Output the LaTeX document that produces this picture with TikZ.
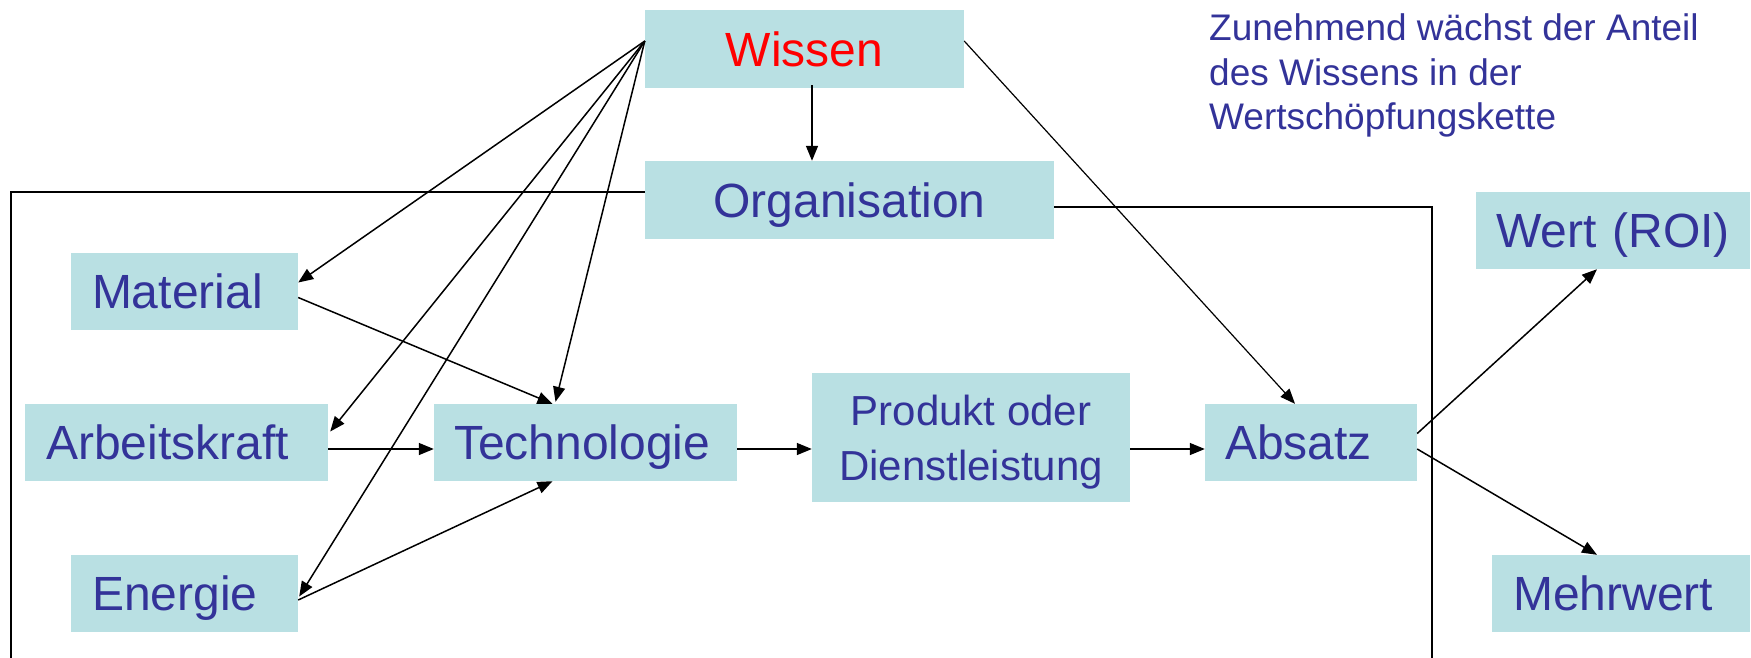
\documentclass[tikz,border=0pt]{standalone}
\usepackage{fontspec}
\setmainfont{Liberation Sans}
\usetikzlibrary{arrows.meta}
\definecolor{boxfill}{RGB}{185,224,227}
\definecolor{txtblue}{RGB}{51,51,153}
\begin{document}
\begin{tikzpicture}[x=1pt,y=-1pt,
  box/.style={fill=boxfill, text=txtblue, inner sep=0pt,
    font=\fontsize{48}{58}\selectfont, text height=34.4pt, text depth=0pt,
    minimum height=77pt},
  lbox/.style={box, inner xsep=21pt, align=left},
  conn/.style={line width=1.5pt, -{Triangle[length=15pt,width=12pt]}},
  frame/.style={line width=1.5pt}]
\useasboundingbox (0,0) rectangle (1751,657);

% boxes
\node[box, minimum width=319pt, minimum height=78pt, text=red] (wis) at (804.5,49) {Wissen};
\node[box, minimum width=409pt, minimum height=78pt] (org) at (849.5,200) {Organisation};
\node[lbox, minimum width=227pt, text width=185pt] (mat) at (184.5,291.5) {Material};
\node[lbox, minimum width=303pt, text width=261pt] (arb) at (176.5,442.5) {Arbeitskraft};
\node[lbox, minimum width=227pt, text width=185pt] (ene) at (184.5,593.5) {Energie};
\node[lbox, minimum width=303pt, text width=263pt, inner xsep=20pt] (tec) at (585.5,442.5) {Technologie};
\node[box, align=center, font=\fontsize{42}{55}\selectfont, text height=85pt, text depth=0pt,
      minimum width=318pt, minimum height=129pt] (pro) at (971,437.5) {Produkt oder\\Dienstleistung};
\node[lbox, minimum width=212pt, text width=172pt, inner xsep=20pt] (abs) at (1311,442.5) {Absatz};
\node[lbox, minimum width=274pt, text width=234pt, inner xsep=20pt] (wer) at (1613,230.5) {Wert (ROI)};
\node[lbox, minimum width=258pt, text width=216pt] (meh) at (1621,593.5) {Mehrwert};

% note
\node[anchor=base west, align=left, text=txtblue, inner sep=0pt,
      font=\fontsize{37}{44.3}\selectfont] (note) at (1209,129.3)
  {Zunehmend wächst der Anteil\\des Wissens in der\\Wertschöpfungskette};

% frame
\coordinate (fbl) at (11,660);
\coordinate (fbr) at (1432,660);
\draw[frame] ([yshift=8pt]org.west) -| (fbl);
\draw[frame] ([yshift=-7pt]org.east) -| (fbr);

% connectors
\coordinate (wl) at ([yshift=8pt]wis.west);
\draw[conn] (wl) -- ([yshift=9pt]mat.east);
\draw[conn] (wl) -- ([xshift=2pt,yshift=11pt]arb.east);
\draw[conn] (wl) -- ([xshift=1pt,yshift=-3pt]ene.east);
\draw[conn] (wl) -- ([xshift=-30pt,yshift=2pt]tec.north);
\draw[conn] ([yshift=-6pt]mat.east) -- ([xshift=-33pt]tec.north);
\draw[conn] ([yshift=-6.5pt]ene.east) -- ([xshift=-33pt]tec.south);
\draw[conn] ([yshift=-6.5pt]arb.east) -- ([yshift=-6.5pt]tec.west);
\draw[conn] ([yshift=-6.5pt]tec.east) -- ([yshift=-11.5pt]pro.west);
\draw[conn] ([yshift=-11.5pt]pro.east) -- ([yshift=-6.5pt]abs.west);
\draw[conn] ([xshift=7.5pt,yshift=3pt]wis.south) -- ([xshift=-37.5pt]org.north);
\draw[conn, line width=1.2pt] ([yshift=8pt]wis.east) -- ([xshift=-16pt]abs.north);
\draw[conn] ([yshift=9pt]abs.east) -- ([xshift=-16pt]wer.south);
\draw[conn] ([yshift=-6.5pt]abs.east) -- ([xshift=-24pt]meh.north);
\end{tikzpicture}
\end{document}
